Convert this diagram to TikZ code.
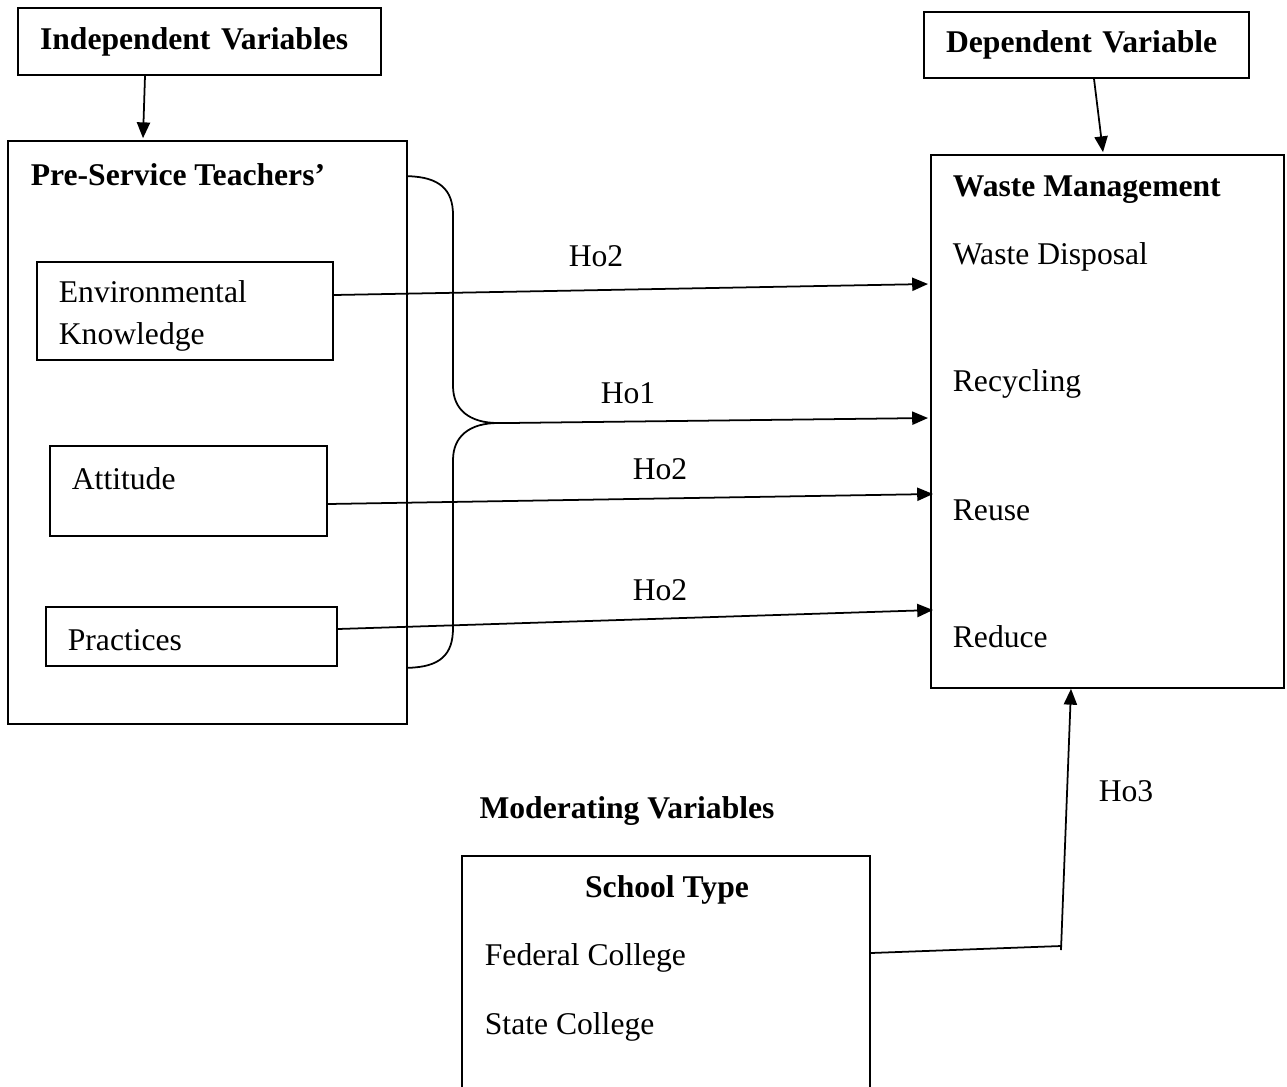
\documentclass[tikz,border=0pt]{standalone}
\usepackage{fontspec}
\setmainfont{Liberation Serif}
\usepackage{tikz}
\usetikzlibrary{arrows.meta,positioning,calc}

\begin{document}
\begin{tikzpicture}[x=0.02cm,y=-0.02cm,line width=1pt,
    box/.style={draw,inner sep=0pt},
    topbox/.style={draw,font=\fontsize{18}{23.8}\selectfont\bfseries,align=left,inner xsep=0.44cm,inner ysep=0pt},
    txt/.style={font=\fontsize{18}{23.8}\selectfont,inner sep=0pt,align=left,yshift=-1.8pt},
    hd/.style={txt,font=\fontsize{18}{23.8}\selectfont\bfseries},
    arr/.style={-{Triangle[length=9pt,width=7.5pt]}}]
  \useasboundingbox (0,0) rectangle (1287,1086);
  % headings
  \node[topbox,text width=6.38cm,minimum height=1.34cm](ivbox)at(199.5,41.5){Independent Variables};
  \node[topbox,text width=5.62cm,minimum height=1.32cm](dvbox)at(1086.5,45){Dependent Variable};
  % left block
  \node[box,minimum width=7.98cm,minimum height=11.66cm](pst)at(207.5,432.5){};
  \node[hd,anchor=west](psttext)at(30,172){Pre-Service Teachers'};
  \node[box,minimum width=5.92cm,minimum height=1.96cm](ek)at(185,311){};
  \node[txt,anchor=west](ektext)at(58,313){Environmental\\Knowledge};
  \node[box,minimum width=5.54cm,minimum height=1.8cm](att)at(188.5,491){};
  \node[txt,anchor=west](atttext)at(71,476){Attitude};
  \node[box,minimum width=5.82cm,minimum height=1.18cm](prac)at(191.5,636.5){};
  \node[txt,anchor=west](practext)at(67,637){Practices};
  % right block
  \node[box,minimum width=7.06cm,minimum height=10.66cm](wm)at(1107.5,421.5){};
  \node[hd,anchor=west](wmtext)at(952,186){Waste Management};
  \foreach \y/\name/\t in {254/wd/Waste Disposal,381/rc/Recycling,507/ru/Reuse,634/rd/Reduce}{
    \node[txt,anchor=west](\name)at(952,\y){\t};}
  % moderating block
  \node[hd](modtext)at(627,808){Moderating Variables};
  \node[box,minimum width=8.16cm,minimum height=4.88cm](school)at(666,978){};
  \node[hd](schooltext)at(667,887){School Type};
  \node[txt,anchor=west](fed)at(484,955){Federal College};
  \node[txt,anchor=west](state)at(484,1024){State College};
  % brace
  \coordinate(brtip)at(508,423);
  \draw($(pst.north east)+(0,36)$) .. controls (440,177) and (453,190) .. (453,215) -- (453,386)
    .. controls (453,410) and (470,423) .. (498,423) -- (brtip);
  \draw(498,423) .. controls (470,423) and (453,436) .. (453,460) -- (453,628)
    .. controls (453,655) and (440,667) .. ($(pst.south east)+(0,-57)$);
  % connectors
  \coordinate(t1)at(928,284);
  \coordinate(t2)at(928,418);
  \coordinate(t3)at(933,494);
  \coordinate(t4)at(933,610);
  \coordinate(knee)at(1061,946);
  \draw[arr]($(ivbox.south)+(-54.5,0)$)--($(pst.north)+(-64.5,-2)$);
  \draw[arr]($(dvbox.south)+(7.5,0)$)--($(wm.north)+(-4.5,-2)$);
  \draw[arr]($(ek.east)+(0,-16)$)--(t1);
  \draw[arr](brtip)--(t2);
  \draw[arr]($(att.east)+(0,13)$)--(t3);
  \draw[arr]($(prac.east)+(0,-7.5)$)--(t4);
  \draw($(school.east)+(0,-25)$)--(knee);
  \draw[arr]($(knee)+(0,4)$)--($(wm.south)+(-36.5,0)$);
  % labels
  \node[txt](l1)at(596,253){Ho2};
  \node[txt](l2)at(628,390){Ho1};
  \node[txt](l3)at(660,466){Ho2};
  \node[txt](l4)at(660,587){Ho2};
  \node[txt](l5)at(1126,788){Ho3};
\end{tikzpicture}
\end{document}
